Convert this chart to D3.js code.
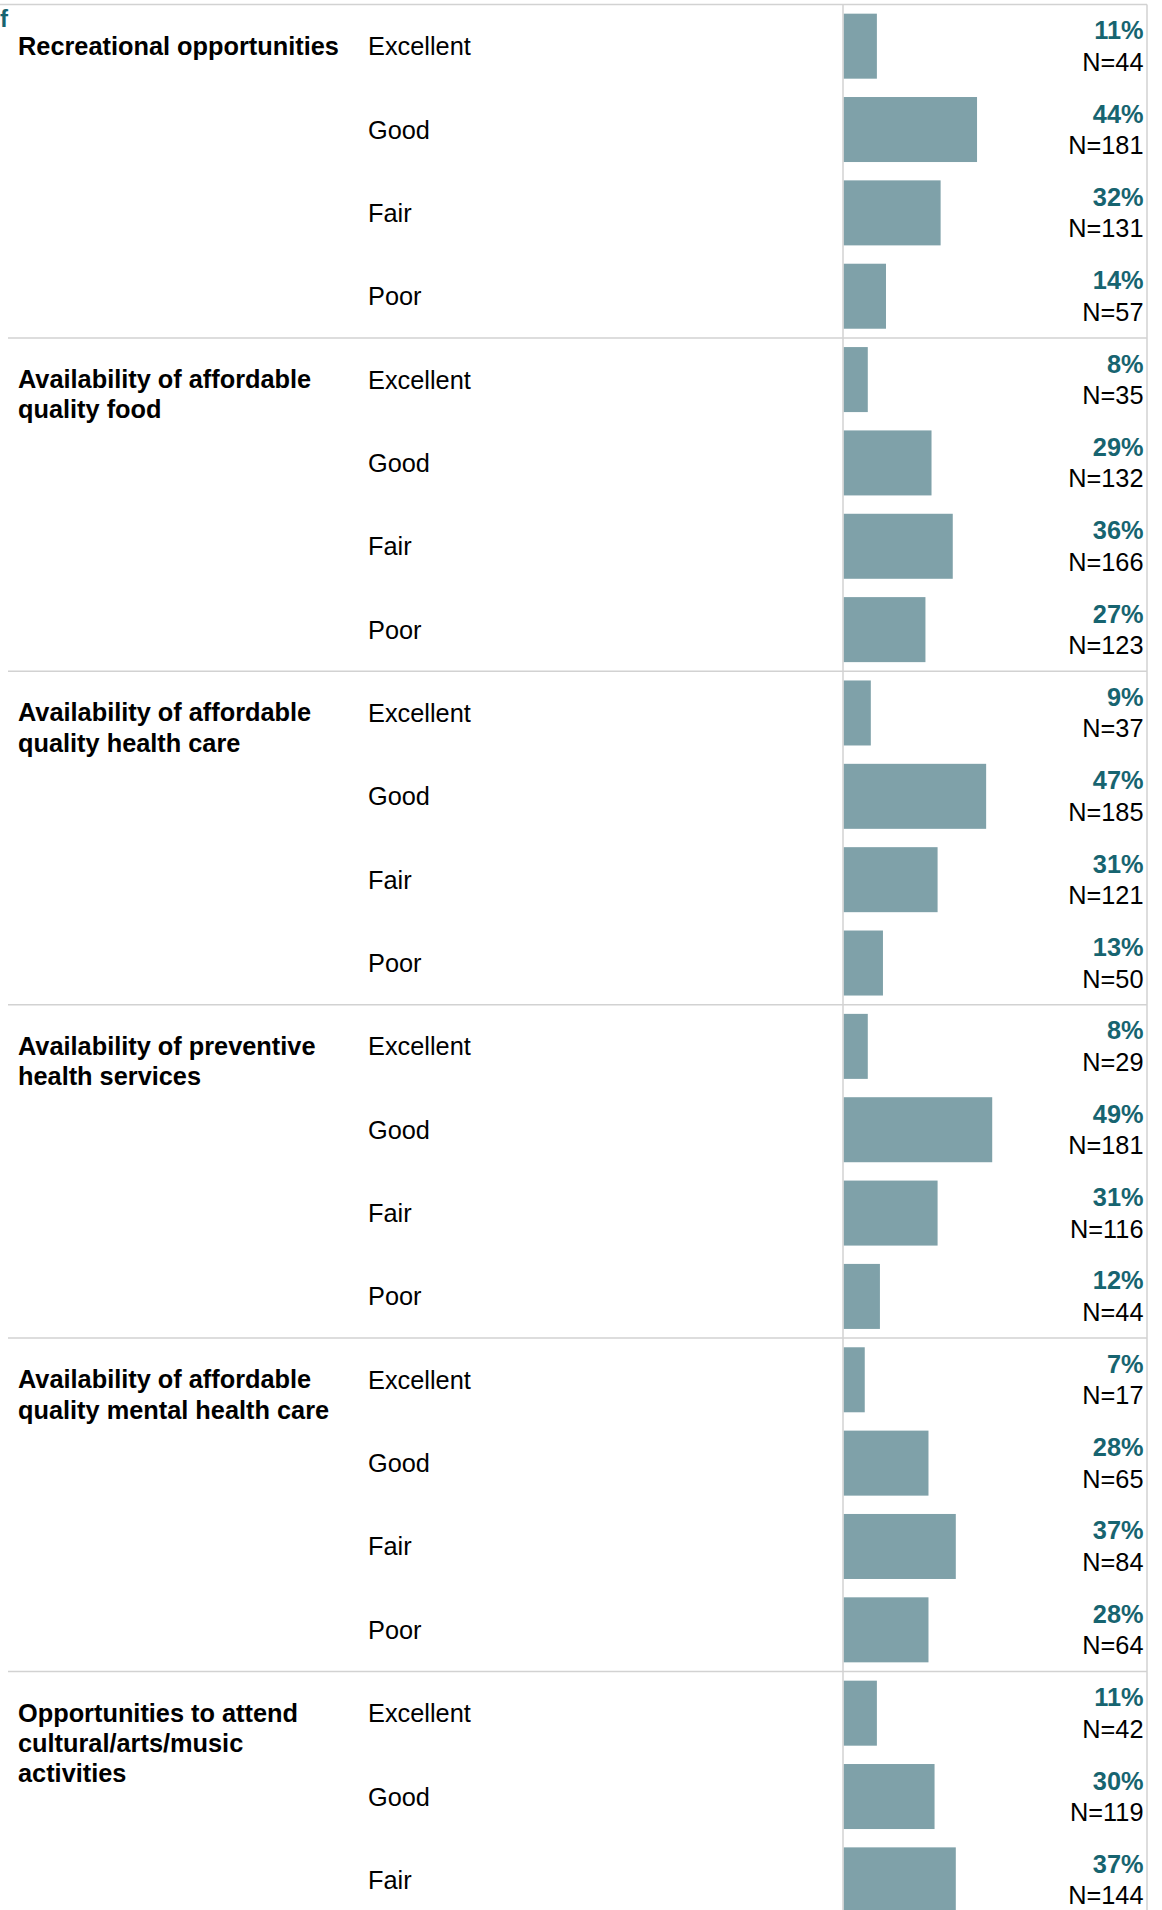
<!DOCTYPE html>
<html>
<head>
<meta charset="utf-8">
<script src="https://cdn.jsdelivr.net/npm/d3@7"></script>
<style>
  html, body { margin: 0; padding: 0; background: #fff; }
  svg { display: block; font-family: "Liberation Sans", Arial, sans-serif; }
</style>
</head>
<body>
<div id="chart"></div>
<script>
// ---- data ----
const categories = [
  "Recreational opportunities",
  "Availability of affordable quality food",
  "Availability of affordable quality health care",
  "Availability of preventive health services",
  "Availability of affordable quality mental health care",
  "Opportunities to attend cultural/arts/music activities"
];
const categoryLines = [
  ["Recreational opportunities"],
  ["Availability of affordable", "quality food"],
  ["Availability of affordable", "quality health care"],
  ["Availability of preventive", "health services"],
  ["Availability of affordable", "quality mental health care"],
  ["Opportunities to attend", "cultural/arts/music", "activities"]
];
const ratings = ["Excellent", "Good", "Fair", "Poor"];
const percents = [
  [11, 44, 32, 14],
  [8, 29, 36, 27],
  [9, 47, 31, 13],
  [8, 49, 31, 12],
  [7, 28, 37, 28],
  [11, 30, 37]
];
const counts = [
  [44, 181, 131, 57],
  [35, 132, 166, 123],
  [37, 185, 121, 50],
  [29, 181, 116, 44],
  [17, 65, 84, 64],
  [42, 119, 144]
];

// ---- layout ----
const W = 1162, H = 1910;
const topY = 4.5, sectionH = 333.4;
const barX0 = 843.5, barX1 = 1147;
const colCat = 18, colRating = 368, colPct = 1143.5;
const fs = 25.33;
const barColor = "#7fa1a9", pctColor = "#176470", lineColor = "#d2d2d2";

const rows = [];
categories.forEach((c, ci) => {
  percents[ci].forEach((p, ri) => {
    rows.push({ key: ci + "-" + ri, cat: ci, ri, rating: ratings[ri], pct: p, n: counts[ci][ri] });
  });
});
const allKeys = [];
categories.forEach((c, ci) => ratings.forEach((r, ri) => allKeys.push(ci + "-" + ri)));

const x = d3.scaleLinear().domain([0, 100]).range([barX0, barX1]);
const y = d3.scaleBand().domain(allKeys)
  .range([topY, topY + sectionH * categories.length])
  .paddingInner(0.22).paddingOuter(0.11);

const svg = d3.select("#chart").append("svg").attr("width", W).attr("height", H);

const gap = (y.step() - y.bandwidth()) / 2;

// top border
svg.append("line").attr("x1", 0).attr("x2", barX1).attr("y1", topY).attr("y2", topY)
  .attr("stroke", lineColor).attr("stroke-width", 1.5);
// section separators
categories.forEach((c, ci) => {
  if (ci === 0) return;
  const yy = y(ci + "-0") - gap;
  svg.append("line").attr("x1", 8).attr("x2", barX1).attr("y1", yy).attr("y2", yy)
    .attr("stroke", lineColor).attr("stroke-width", 1.5);
});

// bars
svg.append("g").selectAll("rect").data(rows).join("rect")
  .attr("x", x(0))
  .attr("y", d => y(d.key))
  .attr("width", d => x(d.pct) - x(0))
  .attr("height", y.bandwidth())
  .attr("fill", barColor);

// vertical lines
svg.append("line").attr("x1", barX0 - 0.5).attr("x2", barX0 - 0.5).attr("y1", topY).attr("y2", H)
  .attr("stroke", lineColor).attr("stroke-width", 1.5);
svg.append("line").attr("x1", barX1).attr("x2", barX1).attr("y1", topY).attr("y2", H)
  .attr("stroke", lineColor).attr("stroke-width", 1.5);

// stray fragment at top-left
svg.append("text").attr("x", 0).attr("y", 27).attr("font-size", 24).attr("font-weight", "bold")
  .attr("fill", pctColor).text("f");

// category labels
categories.forEach((c, ci) => {
  const cy = y(ci + "-0") + y.bandwidth() / 2 + 8.5;
  const t = svg.append("text").attr("x", colCat).attr("y", cy)
    .attr("font-size", fs).attr("font-weight", "bold").attr("fill", "#000");
  categoryLines[ci].forEach((ln, li) => {
    t.append("tspan").attr("x", colCat).attr("y", cy + li * 30.3).text(ln);
  });
});

// rating labels
svg.append("g").selectAll("text").data(rows).join("text")
  .attr("x", colRating)
  .attr("y", d => y(d.key) + y.bandwidth() / 2 + 9)
  .attr("font-size", fs).attr("fill", "#000")
  .text(d => d.rating);

// percent labels
svg.append("g").selectAll("text").data(rows).join("text")
  .attr("x", colPct).attr("text-anchor", "end")
  .attr("y", d => y(d.key) + y.bandwidth() / 2 - 7)
  .attr("font-size", fs).attr("font-weight", "bold").attr("fill", pctColor)
  .text(d => d.pct + "%");

// N labels
svg.append("g").selectAll("text").data(rows).join("text")
  .attr("x", colPct).attr("text-anchor", "end")
  .attr("y", d => y(d.key) + y.bandwidth() / 2 + 24.5)
  .attr("font-size", fs).attr("fill", "#000")
  .text(d => "N=" + d.n);
</script>
</body>
</html>
